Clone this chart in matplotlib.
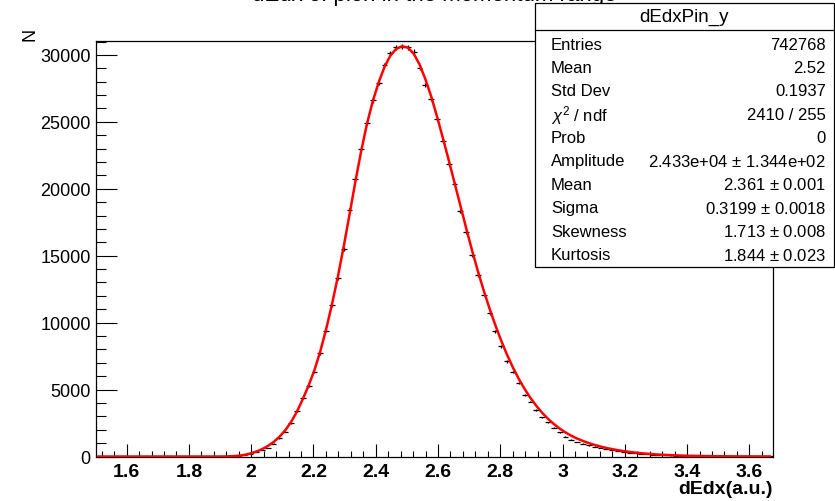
import numpy as np
import matplotlib
matplotlib.use("Agg")
import matplotlib.pyplot as plt
from matplotlib.patches import Rectangle
from matplotlib.lines import Line2D
from matplotlib.ticker import MultipleLocator

plt.rcParams['font.family'] = ['Liberation Sans', 'DejaVu Sans']
plt.rcParams['mathtext.fontset'] = 'custom'
plt.rcParams['mathtext.rm'] = 'Liberation Sans'
plt.rcParams['mathtext.it'] = 'Liberation Sans:italic'

W, H = 835, 502

# ---------------- data ----------------
bin_lo, bin_hi, n_bins = 1.5, 3.675, 116

counts = [0] * 22 + [
    5, 20, 50, 110, 220, 340, 480, 640, 950, 1350,
    1850, 2470, 3370, 4340, 5250, 6300, 7700, 9400, 11300, 13300,
    15500, 18450, 20750, 23000, 24940, 26610, 27940, 29260, 30140, 30560,
    30610, 30560, 30240, 29060, 27770, 26740, 25240, 23570, 21820, 20370,
    18330, 16780, 15030, 13530, 12080, 10710, 9340, 8220, 7100, 6290,
    5470, 4590, 4100, 3470, 2920, 2550, 2150, 1800, 1480, 1250,
    1080, 960, 840, 740, 640, 550, 470, 400, 340, 290,
    245, 205, 170, 140, 115, 93, 75, 60, 48, 38,
    30, 24, 19, 15, 12, 9, 7, 5, 4, 3,
    2, 2, 1, 1]

fit_values = [0] * 22 + [
    8, 25, 60, 120, 220, 360, 540, 780, 1080, 1470,
    1960, 2580, 3350, 4280, 5300, 6450, 7850, 9500, 11350, 13400,
    15650, 18050, 20500, 22800, 24850, 26550, 27950, 29100, 29950, 30450,
    30650, 30550, 30100, 29300, 28200, 26900, 25400, 23800, 22150, 20450,
    18750, 17050, 15400, 13850, 12400, 11050, 9800, 8650, 7600, 6650,
    5800, 5050, 4380, 3790, 3270, 2820, 2430, 2090, 1800, 1550,
    1340, 1160, 1000, 865, 745, 640, 550, 470, 400, 340,
    288, 243, 205, 172, 144, 120, 100, 83, 68, 56,
    46, 38, 31, 25, 20, 16, 13, 10, 8, 6,
    5, 4, 3, 2]

stat_names = ["Entries", "Mean", "Std Dev", r"$\chi^{2}$ / ndf", "Prob",
              "Amplitude", "Mean", "Sigma", "Skewness", "Kurtosis"]
stat_values = ["742768", "2.52", "0.1937", "2410 / 255", "0",
               "2.433e+04 $\\pm$ 1.344e+02", "2.361 $\\pm$ 0.001",
               "0.3199 $\\pm$ 0.0018", "1.713 $\\pm$ 0.008", "1.844 $\\pm$ 0.023"]
hist_name = "dEdxPin_y"
title_text = "dEdx of pion in the momentum range"
x_title = "dEdx(a.u.)"
y_title = "N"

# ---------------- figure ----------------
fig = plt.figure(figsize=(W / 100, H / 100), dpi=100)

def fx(px):
    return px / W

def fy(py):
    return 1 - py / H

ax_l, ax_r, ax_t, ax_b = 95.5, 772.7, 41.5, 457.5
ax = fig.add_axes([fx(ax_l), fy(ax_b), fx(ax_r) - fx(ax_l), fy(ax_t) - fy(ax_b)])

edges = np.linspace(bin_lo, bin_hi, n_bins + 1)
centers = 0.5 * (edges[:-1] + edges[1:])
half_w = 0.5 * (edges[1] - edges[0])
cnt = np.array(counts, dtype=float)
err = np.sqrt(cnt)

ax.errorbar(centers, cnt, xerr=half_w, yerr=err, fmt='none',
            ecolor='black', elinewidth=0.9, capsize=0, zorder=2)
ax.plot(centers, fit_values, color='#ff0000', lw=1.8, zorder=3,
        solid_joinstyle='round')

ax.set_xlim(bin_lo, bin_hi)
ax.set_ylim(0, 31080)

ax.xaxis.set_major_locator(MultipleLocator(0.2))
ax.xaxis.set_minor_locator(MultipleLocator(0.04))
ax.yaxis.set_major_locator(MultipleLocator(5000))
ax.yaxis.set_minor_locator(MultipleLocator(1000))
ax.xaxis.set_major_formatter(matplotlib.ticker.FuncFormatter(lambda v, p: f"{v:g}"))

ax.tick_params(axis='x', which='major', direction='in', length=9.2, width=0.8,
               labelsize=14, pad=5.0, top=False)
ax.tick_params(axis='x', which='minor', direction='in', length=4.6, width=0.8, top=False)
ax.tick_params(axis='y', which='major', direction='in', length=15, width=0.8,
               labelsize=13, pad=3.5, right=False)
ax.tick_params(axis='y', which='minor', direction='in', length=7.5, width=0.8, right=False)
for lab in ax.get_xticklabels():
    lab.set_fontweight('bold')

for s in ax.spines.values():
    s.set_linewidth(0.9)
    s.set_color('black')

# axis titles
fig.text(fx(ax_r), fy(490), x_title, ha='right', va='center',
         fontsize=14, fontweight='bold')
fig.text(fx(30), fy(34), y_title, ha='center', va='center',
         fontsize=13, rotation=90)

# title (mostly cut off at the top edge)
fig.text(fx(434), fy(0.5), title_text, ha='center', va='baseline', fontsize=16)

# ---------------- stats box ----------------
bx_l, bx_r, bx_t, bx_b = 535, 834, 4, 268
fig.patches.append(Rectangle((fx(bx_l), fy(bx_b)), fx(bx_r) - fx(bx_l), fy(bx_t) - fy(bx_b),
                             transform=fig.transFigure, facecolor='white',
                             edgecolor='black', lw=0.9, zorder=5))
sep_y = 31
fig.lines.append(Line2D([fx(bx_l), fx(bx_r)], [fy(sep_y), fy(sep_y)],
                        transform=fig.transFigure, color='black', lw=0.9, zorder=6))
fig.text(fx((bx_l + bx_r) / 2), fy(17.5), hist_name, ha='center', va='center',
         fontsize=13.5, zorder=7)
row0, dy = 45, 23.4
for i, (n, v) in enumerate(zip(stat_names, stat_values)):
    yy = fy(row0 + i * dy)
    fig.text(fx(551), yy, n, ha='left', va='center', fontsize=12, zorder=7)
    fig.text(fx(826), yy, v, ha='right', va='center', fontsize=12, zorder=7)

fig.savefig("out.png", dpi=100)
